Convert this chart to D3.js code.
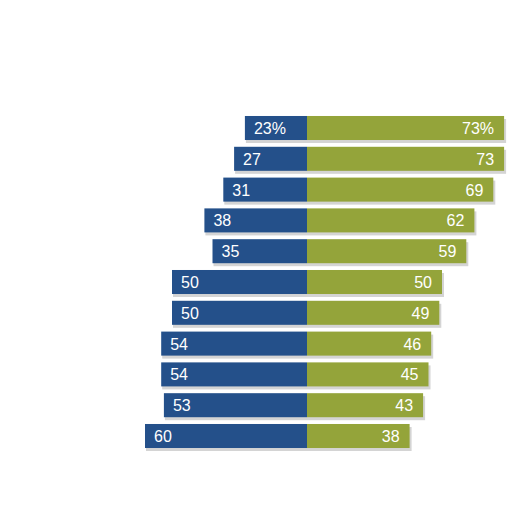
<!DOCTYPE html>
<html>
<head>
<meta charset="utf-8">
<script src="https://cdn.jsdelivr.net/npm/d3@7"></script>
<style>
  body { margin: 0; background: #fff; }
  svg { display: block; }
</style>
</head>
<body>
<div id="chart"></div>
<script>
// Data (row labels are unreadable in the source, so rows are numbered)
const rows = ["r1", "r2", "r3", "r4", "r5", "r6", "r7", "r8", "r9", "r10", "r11"];
const leftValues = [23, 27, 31, 38, 35, 50, 50, 54, 54, 53, 60];
const rightValues = [73, 73, 69, 62, 59, 50, 49, 46, 45, 43, 38];

const width = 512, height = 512;
const blue = "#24508a", green = "#94a43a";

const svg = d3.select("#chart")
    .append("svg")
    .attr("width", width)
    .attr("height", height);

// Scales
const x = d3.scaleLinear()
    .domain([-100, 100])
    .range([37, 577]);

const y = d3.scaleBand()
    .domain(rows)
    .range([112.6, 451.4])
    .paddingInner(0.22)
    .paddingOuter(0.11);

const data = rows.map((r, i) => ({ row: r, left: leftValues[i], right: rightValues[i], first: i === 0 }));

const g = svg.selectAll(".row")
    .data(data)
    .enter()
    .append("g")
    .attr("class", "row");

// light shadow under each bar
g.append("rect")
    .attr("x", d => x(-d.left) + 1)
    .attr("y", d => y(d.row) + 3)
    .attr("width", d => x(d.right) - x(-d.left) + 1)
    .attr("height", y.bandwidth())
    .attr("fill", "#d4d4d4");

g.append("rect")
    .attr("x", d => x(-d.left))
    .attr("y", d => y(d.row))
    .attr("width", d => x(0) - x(-d.left))
    .attr("height", y.bandwidth())
    .attr("fill", blue);

g.append("rect")
    .attr("x", x(0))
    .attr("y", d => y(d.row))
    .attr("width", d => x(d.right) - x(0))
    .attr("height", y.bandwidth())
    .attr("fill", green);

// Value labels
g.append("text")
    .attr("x", d => x(-d.left) + 9)
    .attr("y", d => y(d.row) + y.bandwidth() / 2 + 6)
    .attr("fill", "#fff")
    .style("font-family", "Liberation Sans, Arial, sans-serif")
    .style("font-size", "16px")
    .text(d => d.first ? d.left + "%" : d.left);

g.append("text")
    .attr("x", d => x(d.right) - 10)
    .attr("y", d => y(d.row) + y.bandwidth() / 2 + 6)
    .attr("text-anchor", "end")
    .attr("fill", "#fff")
    .style("font-family", "Liberation Sans, Arial, sans-serif")
    .style("font-size", "16px")
    .text(d => d.first ? d.right + "%" : d.right);
</script>
</body>
</html>
